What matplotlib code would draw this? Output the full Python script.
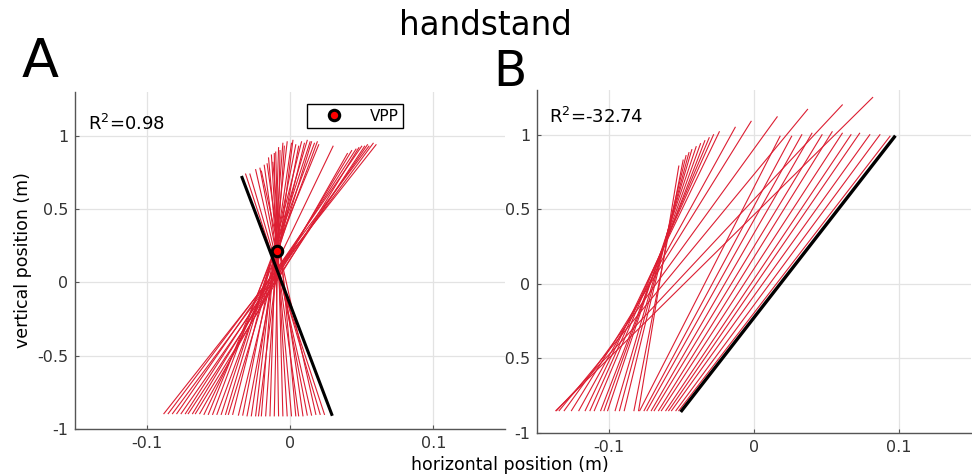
import numpy as np
import matplotlib
matplotlib.use('Agg')
import matplotlib.pyplot as plt
from matplotlib.ticker import FuncFormatter

plt.rcParams['axes.unicode_minus'] = False

# ── panel A : segments (bottom -> top) ─────────────────────
a_xb = [-0.088, -0.085, -0.082, -0.079, -0.076, -0.073, -0.071, -0.068, -0.066, -0.063,
        -0.060, -0.057, -0.054, -0.051, -0.048, -0.045, -0.043, -0.040, -0.036, -0.033,
        -0.030, -0.027, -0.024, -0.022, -0.020, -0.017, -0.014, -0.011, -0.008, -0.005,
        -0.002, 0.001, 0.004, 0.006, 0.009, 0.012, 0.015, 0.018, 0.021, 0.024]
a_yb = [-0.895, -0.895, -0.895, -0.895, -0.895, -0.895, -0.895, -0.895, -0.895, -0.895,
        -0.90, -0.90, -0.90, -0.90, -0.90, -0.90, -0.90, -0.90, -0.905, -0.905,
        -0.91, -0.91, -0.91, -0.91, -0.91, -0.91, -0.91, -0.91, -0.91, -0.91,
        -0.91, -0.91, -0.91, -0.91, -0.91, -0.905, -0.905, -0.90, -0.90, -0.90]
a_xt = [0.060, 0.055, 0.058, 0.050, 0.054, 0.046, 0.052, 0.043, 0.048, 0.040,
        0.030, 0.020, 0.017, 0.019, 0.014, 0.012, 0.015, 0.008, 0.010, 0.004,
        0.006, 0.001, -0.002, 0.002, -0.005, -0.004, -0.008, -0.007, -0.011, -0.010,
        -0.013, -0.015, -0.012, -0.018, -0.016, -0.021, -0.024, -0.020, -0.028, -0.031]
a_yt = [0.94, 0.93, 0.95, 0.93, 0.94, 0.91, 0.93, 0.90, 0.92, 0.88,
        0.93, 0.94, 0.95, 0.96, 0.96, 0.97, 0.96, 0.96, 0.95, 0.94,
        0.93, 0.95, 0.96, 0.97, 0.95, 0.93, 0.92, 0.90, 0.88, 0.89,
        0.87, 0.85, 0.82, 0.80, 0.81, 0.78, 0.77, 0.76, 0.74, 0.74]
a_fit_x = [-0.0335, 0.0291]
a_fit_y = [0.717, -0.90]
vpp_x, vpp_y = -0.0093, 0.213
a_r2 = "0.98"

# ── panel B : segments (bottom at b_yb -> top) ─────────────
b_xb = [-0.137, -0.1365, -0.1347, -0.1312, -0.1262, -0.1211,
        -0.1167, -0.1134, -0.1104, -0.106, -0.1037, -0.1012, -0.096, -0.093, -0.0897, -0.083, -0.0798,
        -0.079, -0.076, -0.074, -0.071, -0.069, -0.066, -0.064, -0.061, -0.059, -0.057, -0.054, -0.052]
b_xt = [0.082, 0.061, 0.037, 0.016, -0.002, -0.013,
        -0.024, -0.028, -0.031, -0.034, -0.037, -0.040, -0.043, -0.045, -0.047, -0.049, -0.052,
        0.018, 0.026, 0.033, 0.040, 0.047, 0.054, 0.061, 0.067, 0.073, 0.080, 0.087, 0.094]
b_yt = [1.25, 1.20, 1.17, 1.12, 1.09, 1.05,
        1.02, 1.00, 0.98, 0.96, 0.94, 0.92, 0.90, 0.88, 0.86, 0.83, 0.79,
        0.99, 0.99, 1.00, 1.01, 1.00, 1.02, 1.01, 1.00, 1.01, 1.00, 1.00, 0.99]
b_yb = -0.85
b_fit_x = [-0.050, 0.097]
b_fit_y = [-0.85, 0.985]
b_r2 = "-32.74"

RED = '#dc1e32'
fmt = FuncFormatter(lambda v, p: f"{v:g}")


def style(ax):
    ax.set_xlim(-0.15, 0.15)
    ax.set_ylim(-1, 1.3)
    ax.set_xticks([-0.1, 0, 0.1])
    ax.set_yticks([-1, -0.5, 0, 0.5, 1])
    ax.xaxis.set_major_formatter(fmt)
    ax.yaxis.set_major_formatter(fmt)
    ax.grid(True, color='#e3e3e3', lw=0.9)
    ax.set_axisbelow(True)
    for s in ['top', 'right']:
        ax.spines[s].set_visible(False)
    for s in ['left', 'bottom']:
        ax.spines[s].set_color('#555555')
        ax.spines[s].set_linewidth(1.0)
    ax.tick_params(direction='in', length=3, color='#555555',
                   labelsize=11.5, labelcolor='#333333', pad=5)


fig = plt.figure(figsize=(9.72, 4.74), dpi=100)

# B first so A (white, on top) hides the minus of B's left labels
axB = fig.add_axes([0.5525, 0.0865, 0.4465, 0.7236])
axA = fig.add_axes([0.0772, 0.0949, 0.4424, 0.711])
axA.set_zorder(2)
axB.set_zorder(1)
axA.set_facecolor('white')

# panel A
for xb, yb, xt, yt in zip(a_xb, a_yb, a_xt, a_yt):
    axA.plot([xb, xt], [yb, yt], color=RED, lw=0.8)
axA.plot(a_fit_x, a_fit_y, color='black', lw=2.2)
axA.plot(vpp_x, vpp_y, 'o', mfc='red', mec='black', ms=7.5, mew=2.2,
         label='VPP', zorder=5)
style(axA)
axA.text(0.03, 0.887, "R$^2$=" + a_r2, transform=axA.transAxes,
         fontsize=13, va='baseline', ha='left')
leg = axA.legend(loc='upper right', bbox_to_anchor=(0.763, 0.964),
                 borderaxespad=0, fancybox=False, edgecolor='black',
                 fontsize=11, handlelength=2.9, borderpad=0.3,
                 handletextpad=0.9, framealpha=1)
leg.get_frame().set_linewidth(1.0)

# panel B
for xb, xt, yt in zip(b_xb, b_xt, b_yt):
    axB.plot([xb, xt], [b_yb, yt], color=RED, lw=0.8)
axB.plot(b_fit_x, b_fit_y, color='black', lw=2.4)
style(axB)
axB.text(0.028, 0.904, "R$^2$=" + b_r2, transform=axB.transAxes,
         fontsize=13, va='baseline', ha='left')

# figure texts
fig.text(0.499, 0.947, "handstand", fontsize=23.5, ha='center', va='center')
fig.text(0.041, 0.869, "A", fontsize=39, ha='center', va='center')
fig.text(0.525, 0.848, "B", fontsize=35, ha='center', va='center')
fig.text(0.525, 0.019, "horizontal position (m)", fontsize=12.5,
         ha='center', va='center')
fig.text(0.024, 0.451, "vertical position (m)", fontsize=12.5,
         ha='center', va='center', rotation=90)

fig.savefig("out.png", dpi=100)
